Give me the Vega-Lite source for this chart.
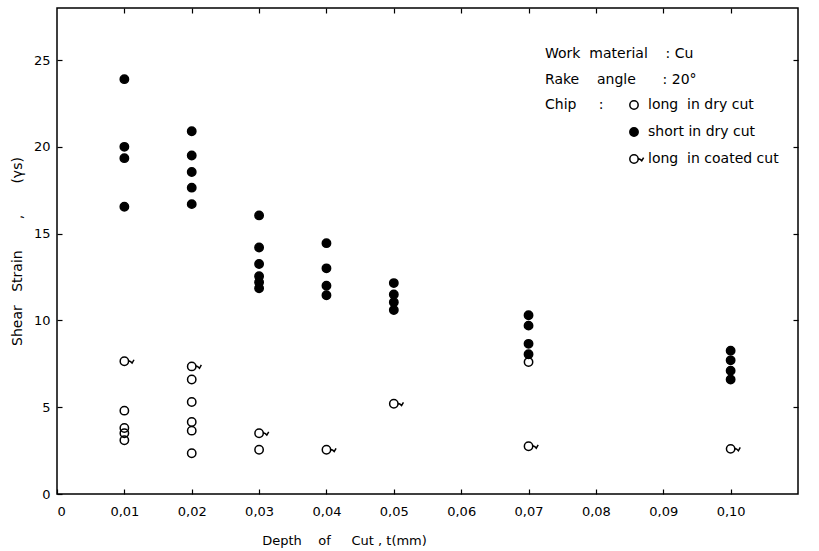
{
  "$schema": "https://vega.github.io/schema/vega-lite/v6.json",
  "width": 741,
  "height": 486,
  "autosize": {"type": "none"},
  "padding": {"left": 57, "top": 8, "right": 21, "bottom": 57},
  "background": "white",
  "config": {
    "font": "DejaVu Sans",
    "view": {"stroke": "black", "strokeWidth": 1.5},
    "axis": {
      "grid": false,
      "domain": false,
      "ticks": true,
      "tickSize": 5,
      "offset": -5,
      "tickColor": "black",
      "tickWidth": 1.2,
      "labelColor": "black",
      "titleColor": "black",
      "labelFontSize": 13,
      "titleFontSize": 13,
      "titleFontWeight": "normal"
    }
  },
  "title": {
    "text": ["Work\u00a0 material\u00a0\u00a0\u00a0\u00a0: Cu", "Rake\u00a0\u00a0\u00a0\u00a0angle\u00a0\u00a0\u00a0\u00a0\u00a0\u00a0: 20°"],
    "anchor": "start",
    "frame": "group",
    "orient": "top",
    "offset": 0,
    "dx": 488,
    "dy": 80,
    "baseline": "top",
    "fontSize": 14,
    "fontWeight": "normal",
    "lineHeight": 26,
    "color": "black"
  },
  "data": {
    "values": [
      {"t": 0.01, "strain": 23.9, "chip": "short in dry cut"},
      {"t": 0.01, "strain": 20.0, "chip": "short in dry cut"},
      {"t": 0.01, "strain": 19.35, "chip": "short in dry cut"},
      {"t": 0.01, "strain": 16.55, "chip": "short in dry cut"},
      {"t": 0.02, "strain": 20.9, "chip": "short in dry cut"},
      {"t": 0.02, "strain": 19.5, "chip": "short in dry cut"},
      {"t": 0.02, "strain": 18.55, "chip": "short in dry cut"},
      {"t": 0.02, "strain": 17.65, "chip": "short in dry cut"},
      {"t": 0.02, "strain": 16.7, "chip": "short in dry cut"},
      {"t": 0.03, "strain": 16.05, "chip": "short in dry cut"},
      {"t": 0.03, "strain": 14.2, "chip": "short in dry cut"},
      {"t": 0.03, "strain": 13.25, "chip": "short in dry cut"},
      {"t": 0.03, "strain": 12.55, "chip": "short in dry cut"},
      {"t": 0.03, "strain": 12.2, "chip": "short in dry cut"},
      {"t": 0.03, "strain": 11.85, "chip": "short in dry cut"},
      {"t": 0.04, "strain": 14.45, "chip": "short in dry cut"},
      {"t": 0.04, "strain": 13.0, "chip": "short in dry cut"},
      {"t": 0.04, "strain": 12.0, "chip": "short in dry cut"},
      {"t": 0.04, "strain": 11.45, "chip": "short in dry cut"},
      {"t": 0.05, "strain": 12.15, "chip": "short in dry cut"},
      {"t": 0.05, "strain": 11.5, "chip": "short in dry cut"},
      {"t": 0.05, "strain": 11.05, "chip": "short in dry cut"},
      {"t": 0.05, "strain": 10.6, "chip": "short in dry cut"},
      {"t": 0.07, "strain": 10.3, "chip": "short in dry cut"},
      {"t": 0.07, "strain": 9.7, "chip": "short in dry cut"},
      {"t": 0.07, "strain": 8.65, "chip": "short in dry cut"},
      {"t": 0.07, "strain": 8.05, "chip": "short in dry cut"},
      {"t": 0.1, "strain": 8.25, "chip": "short in dry cut"},
      {"t": 0.1, "strain": 7.7, "chip": "short in dry cut"},
      {"t": 0.1, "strain": 7.1, "chip": "short in dry cut"},
      {"t": 0.1, "strain": 6.6, "chip": "short in dry cut"},
      {"t": 0.01, "strain": 4.8, "chip": "long in dry cut"},
      {"t": 0.01, "strain": 3.8, "chip": "long in dry cut"},
      {"t": 0.01, "strain": 3.5, "chip": "long in dry cut"},
      {"t": 0.01, "strain": 3.1, "chip": "long in dry cut"},
      {"t": 0.02, "strain": 6.6, "chip": "long in dry cut"},
      {"t": 0.02, "strain": 5.3, "chip": "long in dry cut"},
      {"t": 0.02, "strain": 4.15, "chip": "long in dry cut"},
      {"t": 0.02, "strain": 3.65, "chip": "long in dry cut"},
      {"t": 0.02, "strain": 2.35, "chip": "long in dry cut"},
      {"t": 0.03, "strain": 2.55, "chip": "long in dry cut"},
      {"t": 0.07, "strain": 7.6, "chip": "long in dry cut"},
      {"t": 0.01, "strain": 7.65, "chip": "long in coated cut"},
      {"t": 0.02, "strain": 7.35, "chip": "long in coated cut"},
      {"t": 0.03, "strain": 3.5, "chip": "long in coated cut"},
      {"t": 0.04, "strain": 2.55, "chip": "long in coated cut"},
      {"t": 0.05, "strain": 5.2, "chip": "long in coated cut"},
      {"t": 0.07, "strain": 2.75, "chip": "long in coated cut"},
      {"t": 0.1, "strain": 2.6, "chip": "long in coated cut"}
    ]
  },
  "layer": [
    {
      "mark": {"type": "point", "filled": true, "strokeWidth": 1.5, "size": 70, "opacity": 1},
      "encoding": {
        "x": {
          "field": "t",
          "type": "quantitative",
          "scale": {"domain": [0, 0.11], "nice": false, "zero": false},
          "axis": {
            "values": [0, 0.01, 0.02, 0.03, 0.04, 0.05, 0.06, 0.07, 0.08, 0.09, 0.1],
            "labelPadding": 11,
            "labelExpr": "datum.value == 0 ? '0' : replace(format(datum.value, '.2f'), '.', ',')",
            "title": "Depth\u00a0\u00a0\u00a0\u00a0of\u00a0\u00a0\u00a0\u00a0\u00a0Cut\u00a0,\u00a0t(mm)",
            "titleX": 287,
            "titleAlign": "center",
            "titlePadding": 16
          }
        },
        "y": {
          "field": "strain",
          "type": "quantitative",
          "scale": {"domain": [0, 28], "nice": false},
          "axis": {
            "values": [0, 5, 10, 15, 20, 25],
            "labelPadding": 7,
            "title": "Shear\u00a0\u00a0\u00a0Strain\u00a0\u00a0\u00a0\u00a0\u00a0\u00a0\u00a0,\u00a0\u00a0\u00a0\u00a0\u00a0\u00a0\u00a0(γs)",
            "titleFontSize": 14,
            "titlePadding": 9
          }
        },
        "shape": {
          "field": "chip",
          "type": "nominal",
          "scale": {
            "domain": ["long in dry cut", "short in dry cut", "long in coated cut"],
            "range": ["circle", "circle", "M1,0A1,1,0,1,1,-1,0A1,1,0,1,1,1,0Z M1.1,-0.1L1.5,0.1L1.85,0.45L2.3,-0.35"]
          },
          "legend": {
            "orient": "none",
            "legendX": 488,
            "legendY": 90,
            "title": "Chip\u00a0\u00a0\u00a0\u00a0\u00a0:",
            "titleOrient": "left",
            "titleAnchor": "start",
            "titleFontSize": 14,
            "titleFontWeight": "normal",
            "titleColor": "black",
            "titlePadding": 23,
            "labelFontSize": 14,
            "labelColor": "black",
            "labelOffset": 7,
            "labelExpr": "replace(datum.label, 'long in', 'long\u00a0 in')",
            "symbolSize": 70,
            "symbolStrokeWidth": 1.5,
            "rowPadding": 11
          }
        },
        "fill": {
          "field": "chip",
          "type": "nominal",
          "scale": {
            "domain": ["long in dry cut", "short in dry cut", "long in coated cut"],
            "range": ["transparent", "black", "transparent"]
          },
          "legend": {
            "orient": "none",
            "legendX": 488,
            "legendY": 90,
            "title": "Chip\u00a0\u00a0\u00a0\u00a0\u00a0:",
            "titleOrient": "left",
            "titleAnchor": "start",
            "titleFontSize": 14,
            "titleFontWeight": "normal",
            "titleColor": "black",
            "titlePadding": 23,
            "labelFontSize": 14,
            "labelColor": "black",
            "labelOffset": 7,
            "labelExpr": "replace(datum.label, 'long in', 'long\u00a0 in')",
            "symbolSize": 70,
            "symbolStrokeWidth": 1.5,
            "rowPadding": 11
          }
        },
        "stroke": {
          "field": "chip",
          "type": "nominal",
          "scale": {
            "domain": ["long in dry cut", "short in dry cut", "long in coated cut"],
            "range": ["black", "black", "black"]
          },
          "legend": {
            "orient": "none",
            "legendX": 488,
            "legendY": 90,
            "title": "Chip\u00a0\u00a0\u00a0\u00a0\u00a0:",
            "titleOrient": "left",
            "titleAnchor": "start",
            "titleFontSize": 14,
            "titleFontWeight": "normal",
            "titleColor": "black",
            "titlePadding": 23,
            "labelFontSize": 14,
            "labelColor": "black",
            "labelOffset": 7,
            "labelExpr": "replace(datum.label, 'long in', 'long\u00a0 in')",
            "symbolSize": 70,
            "symbolStrokeWidth": 1.5,
            "rowPadding": 11
          }
        }
      }
    },
    {
      "mark": {"type": "point", "opacity": 0},
      "encoding": {
        "x": {
          "field": "t",
          "type": "quantitative",
          "axis": {"orient": "top", "labels": false, "title": null, "values": [0.01, 0.02, 0.03, 0.04, 0.05, 0.06, 0.07, 0.08, 0.09, 0.1]}
        },
        "y": {
          "field": "strain",
          "type": "quantitative",
          "axis": {"orient": "right", "labels": false, "title": null, "values": [5, 10, 15, 20, 25]}
        }
      }
    }
  ],
  "resolve": {"axis": {"x": "independent", "y": "independent"}}
}
